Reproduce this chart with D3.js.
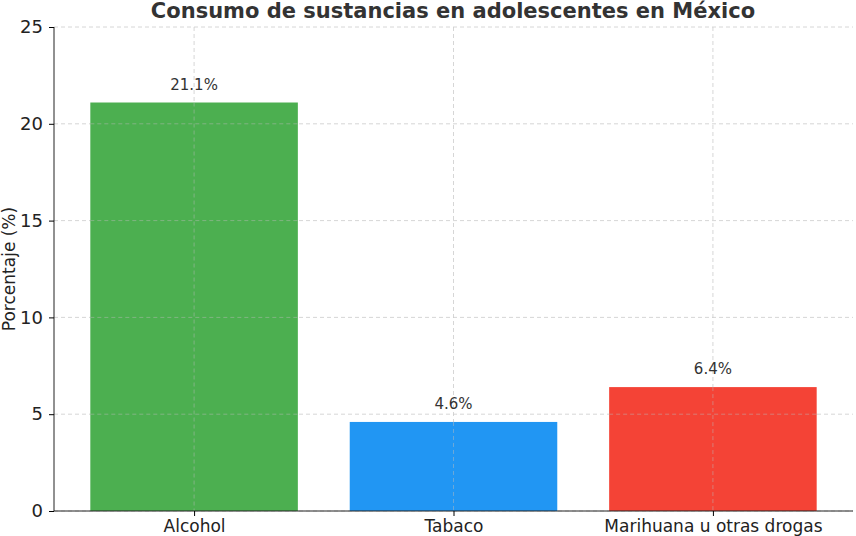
<!DOCTYPE html>
<html><head><meta charset="utf-8">
<script src="https://cdn.jsdelivr.net/npm/d3@7"></script>
<style>body{margin:0;background:#fff}text{font-family:"DejaVu Sans",sans-serif}</style>
</head><body><svg id="c" width="856" height="536"></svg>
<script>
const categories=["Alcohol","Tabaco","Marihuana u otras drogas"];
const values=[21.1,4.6,6.4];
const colors=["#4caf50","#2196f3","#f44336"];
const yTicks=[0,5,10,15,20,25];
const svg=d3.select("#c");
const x=d3.scaleLinear().domain([-0.54,2.54]).range([54,853]);
const y=d3.scaleLinear().domain([0,25]).range([511,27]);
const g=svg.append("g");
yTicks.forEach(t=>g.append("line").attr("x1",54).attr("x2",853).attr("y1",y(t)).attr("y2",y(t)).attr("stroke","#ccc").attr("stroke-dasharray","4,3").attr("stroke-width",0.8));
categories.forEach((c,i)=>g.append("line").attr("x1",x(i)).attr("x2",x(i)).attr("y1",27).attr("y2",511).attr("stroke","#ccc").attr("stroke-dasharray","4,3").attr("stroke-width",0.8));
svg.selectAll("rect.b").data(values).join("rect").attr("x",(d,i)=>x(i-0.4)).attr("width",x(0.4)-x(-0.4)).attr("y",d=>y(d)).attr("height",d=>y(0)-y(d)).attr("fill",(d,i)=>colors[i]);
// redraw grid on top faintly? matplotlib grid is below bars in reference? grid visible over bars
categories.forEach((c,i)=>svg.append("line").attr("x1",x(i)).attr("x2",x(i)).attr("y1",y(values[i])).attr("y2",511).attr("stroke","#bbb").attr("stroke-opacity",0.6).attr("stroke-dasharray","4,3").attr("stroke-width",0.8));
yTicks.forEach(t=>{categories.forEach((c,i)=>{if(t>0&&t<values[i])svg.append("line").attr("x1",x(i-0.4)).attr("x2",x(i+0.4)).attr("y1",y(t)).attr("y2",y(t)).attr("stroke","#bbb").attr("stroke-opacity",0.6).attr("stroke-dasharray","4,3").attr("stroke-width",0.8);});});
svg.selectAll("text.v").data(values).join("text").attr("x",(d,i)=>x(i)).attr("y",d=>y(d)-13).attr("text-anchor","middle").attr("font-size",15).attr("fill","#333").text(d=>d.toFixed(1)+"%");
const ya=svg.append("g").attr("transform","translate(54,0)").call(d3.axisLeft(y).tickValues(yTicks).tickSize(5).tickPadding(6));
ya.selectAll("text").attr("font-size",18).attr("fill","#222").style("font-family","DejaVu Sans");
ya.select(".domain").attr("d","M0,27V511").attr("stroke","#222");
const xa=svg.append("g").attr("transform","translate(0,511)").call(d3.axisBottom(x).tickValues([0,1,2]).tickFormat(i=>categories[i]).tickSize(5).tickPadding(4));
xa.selectAll("text").attr("font-size",17).attr("fill","#222").style("font-family","DejaVu Sans");
xa.select(".domain").attr("d","M54,0H853").attr("stroke","#222");
svg.append("text").attr("transform","translate(15,269) rotate(-90)").attr("text-anchor","middle").attr("font-size",17).attr("fill","#222").text("Porcentaje (%)");
svg.append("text").attr("x",453).attr("y",18).attr("text-anchor","middle").attr("font-size",21).attr("font-weight","bold").attr("fill","#333").text("Consumo de sustancias en adolescentes en México");
</script></body></html>
